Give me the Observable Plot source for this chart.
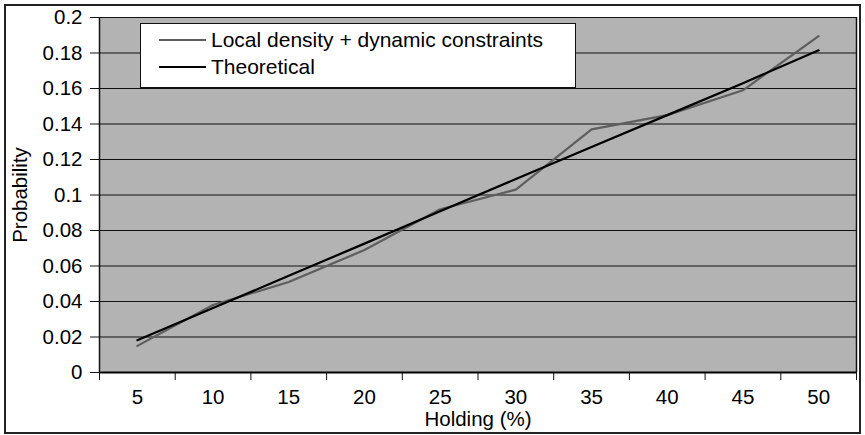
<!DOCTYPE html>
<html>
<head>
<meta charset="utf-8">
<script src="https://cdn.jsdelivr.net/npm/d3@7"></script>
<script src="https://cdn.jsdelivr.net/npm/@observablehq/plot@0.6"></script>
<style>
  html, body { margin: 0; padding: 0; background: #fff; }
  #wrap { position: relative; width: 865px; height: 435px; font-family: "Liberation Sans", Arial, sans-serif; }
  #outer { position: absolute; left: 4px; top: 4px; width: 857px; height: 430px; box-sizing: border-box; border: 2px solid #222; pointer-events: none; }
  #legend { position: absolute; left: 140px; top: 23px; width: 436px; height: 65px; box-sizing: border-box; border: 1px solid #111; background: #fff; }
  .row { position: absolute; left: 0; height: 24px; width: 100%; }
  .sw { position: absolute; left: 18px; width: 47px; top: 11px; height: 0; }
  .lab { position: absolute; left: 70px; top: 0; font-size: 21px; line-height: 24px; color: #000; white-space: nowrap; }
</style>
</head>
<body>
<div id="wrap">
  <div id="chart"></div>
  <div id="legend"></div>
  <div id="outer"></div>
</div>
<script>
// ---- data ----
const holding = [5, 10, 15, 20, 25, 30, 35, 40, 45, 50];
const localDensity = [0.015, 0.038, 0.051, 0.069, 0.092, 0.103, 0.137, 0.145, 0.159, 0.1895];
const theoretical = [0.0182, 0.0363, 0.0545, 0.0726, 0.0908, 0.109, 0.127, 0.145, 0.163, 0.1815];
const yTicks = [0, 0.02, 0.04, 0.06, 0.08, 0.1, 0.12, 0.14, 0.16, 0.18, 0.2];
const seriesNames = ["Local density + dynamic constraints", "Theoretical"];
const seriesColors = ["#5e5e5e", "#000000"];
const xTitle = "Holding (%)";
const yTitle = "Probability";

// category boundaries (between categories)
const step = holding[1] - holding[0];
const bounds = [holding[0] - step / 2, ...holding.map(h => h + step / 2)];

const simData = holding.map((h, i) => ({h, v: localDensity[i]}));
const theoData = holding.map((h, i) => ({h, v: theoretical[i]}));

const chart = Plot.plot({
  width: 865,
  height: 435,
  marginTop: 17,
  marginBottom: 63,
  marginLeft: 99,
  marginRight: 9,
  style: {fontFamily: "'Liberation Sans', Arial, sans-serif", fontSize: "20.5px", color: "#000", background: "transparent"},
  x: {type: "linear", domain: [bounds[0], bounds[bounds.length - 1]]},
  y: {domain: [0, 0.2]},
  marks: [
    Plot.frame({fill: "#b3b3b3", stroke: null}),
    Plot.ruleY(yTicks.filter(d => d > 0), {stroke: "#111", strokeWidth: 1}),
    Plot.ruleX([bounds[bounds.length - 1]], {stroke: "#111", strokeWidth: 1.5}),
    Plot.ruleX([bounds[0]], {y1: 0, y2: 0.2, stroke: "#111", strokeWidth: 1.5}),
    Plot.axisY(yTicks, {tickSize: 9, tickPadding: 8, tickFormat: d => String(d), label: null, stroke: "#111"}),
    Plot.axisX(bounds, {tickSize: 8, tickFormat: () => "", label: null, stroke: "#111"}),
    Plot.axisX(holding, {tickSize: 0, tickPadding: 17, tickFormat: d => String(d), label: null}),
    Plot.line(simData, {x: "h", y: "v", stroke: seriesColors[0], strokeWidth: 2.2}),
    Plot.line(theoData, {x: "h", y: "v", stroke: seriesColors[1], strokeWidth: 2.2}),
    Plot.ruleY([0], {stroke: "#000", strokeWidth: 2}),
    Plot.text([xTitle], {frameAnchor: "bottom", dy: 47, text: d => d, lineAnchor: "middle", fontSize: 20.5}),
    Plot.text([yTitle], {frameAnchor: "left", dx: -79, rotate: -90, text: d => d, lineAnchor: "middle", textAnchor: "middle", fontSize: 20.5})
  ]
});
document.getElementById("chart").appendChild(chart);

// legend
const legend = document.getElementById("legend");
seriesNames.forEach((name, i) => {
  const row = document.createElement("div");
  row.className = "row";
  row.style.top = (4 + i * 27.4) + "px";
  const sw = document.createElement("div");
  sw.className = "sw";
  sw.style.borderTop = "2px solid " + seriesColors[i];
  const lab = document.createElement("div");
  lab.className = "lab";
  lab.textContent = name;
  row.appendChild(sw);
  row.appendChild(lab);
  legend.appendChild(row);
});
</script>
</body>
</html>
